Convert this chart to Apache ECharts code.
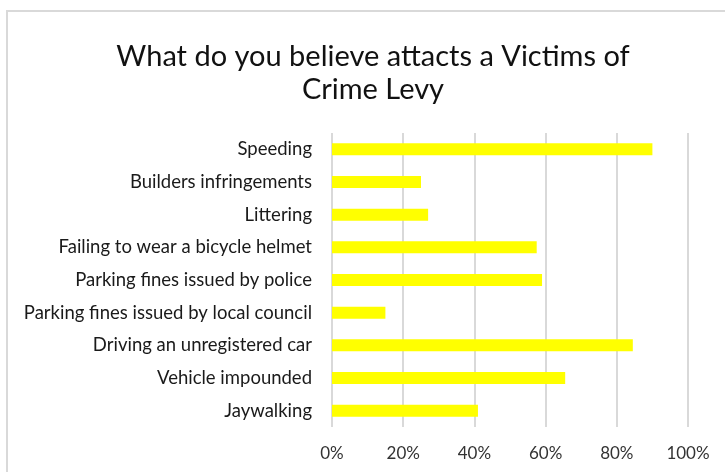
<!DOCTYPE html>
<html>
<head>
<meta charset="utf-8">
<script src="https://cdn.jsdelivr.net/npm/echarts@6/dist/echarts.min.js"></script>
<style>
  html, body { margin: 0; padding: 0; background: #fff; }
  #chart { width: 725px; height: 472px; }
</style>
</head>
<body>
<div id="chart"></div>
<script>
// categories top -> bottom
const categories = [
  'Speeding',
  'Builders infringements',
  'Littering',
  'Failing to wear a bicycle helmet',
  'Parking fines issued by police',
  'Parking fines issued by local council',
  'Driving an unregistered car',
  'Vehicle impounded',
  'Jaywalking',
];
// percent of respondents
const values = [90, 25, 27, 57.5, 59, 15, 84.5, 65.5, 41];
const xTicks = [0, 20, 40, 60, 80, 100];

const font = 'Lato, "Noto Sans", sans-serif';
const chart = echarts.init(document.getElementById('chart'));

const option = {
  animation: false,
  backgroundColor: '#fff',
  graphic: [
    {
      // chart area border (cut off at right/bottom)
      type: 'rect',
      shape: { x: 7, y: 11, width: 800, height: 600 },
      style: { fill: 'none', stroke: '#d9d9d9', lineWidth: 2 },
      silent: true,
    },
    {
      type: 'text',
      x: 373,
      y: 40,
      style: {
        text: 'What do you believe attacts a Victims of\nCrime Levy',
        align: 'center',
        verticalAlign: 'top',
        fontFamily: font,
        fontSize: 29,
        lineHeight: 33,
        fill: '#111',
      },
      silent: true,
    },
  ],
  grid: {
    left: 332,
    right: 37,
    top: 133,
    height: 294,
  },
  xAxis: {
    type: 'value',
    min: xTicks[0],
    max: xTicks[xTicks.length - 1],
    interval: 20,
    axisLine: { show: false },
    axisTick: { show: false },
    axisLabel: {
      formatter: '{value}%',
      margin: 18,
      fontFamily: font,
      fontSize: 17,
      color: '#333',
    },
    splitLine: {
      lineStyle: { color: '#d9d9d9', width: 2 },
    },
  },
  yAxis: {
    type: 'category',
    inverse: true,
    data: categories,
    axisLine: { show: false },
    axisTick: { show: false },
    splitLine: { show: false },
    axisLabel: {
      margin: 20,
      fontFamily: font,
      fontSize: 18.5,
      color: '#1a1a1a',
    },
  },
  series: [
    {
      type: 'bar',
      data: values,
      barWidth: 12,
      itemStyle: { color: '#ffff00' },
    },
  ],
};
chart.setOption(option);
</script>
</body>
</html>
